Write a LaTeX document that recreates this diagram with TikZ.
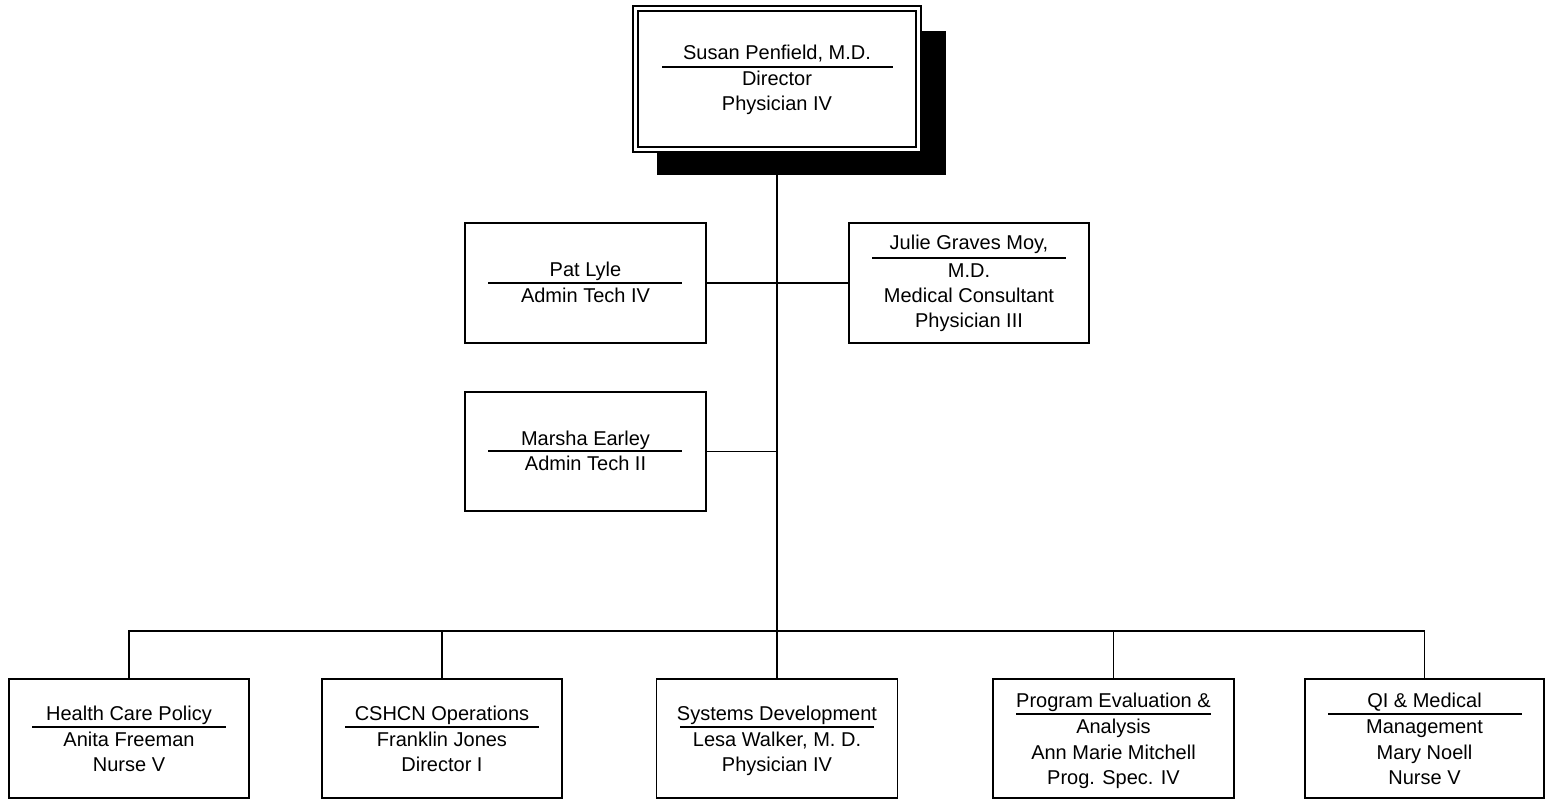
\documentclass[tikz,border=0pt]{standalone}
\usepackage{fontspec}
\setmainfont{Liberation Sans}
\begin{document}
\begin{tikzpicture}[x=1pt,y=-1pt,
  box/.style={draw,line width=1.3pt,fill=white,inner sep=0pt,outer sep=0pt,minimum width=#1},
  box/.default=240pt,
  lbl/.style={anchor=base,inner sep=0pt,font=\fontsize{20}{24}\selectfont},
  conn/.style={line width=1.3pt},
  rulel/.style={line width=1.3pt}]
\useasboundingbox (0,0) rectangle (1547,799);
% top box with shadow
\fill (657,31) rectangle (946,175);
\node[box=288pt,minimum height=146pt] (top) at (777,79) {};
\draw[line width=1.2pt] (638,11) rectangle (916,147);
\node[lbl] (t1) at (777,60) {Susan Penfield, M.D.};
\draw[rulel] (662,67) -- (893,67);
\node[lbl] (t2) at (777,86) {Director};
\node[lbl] (t3) at (777,111) {Physician IV};
% coordinates on spine
\coordinate (bus) at (777,631);
\coordinate (mspine) at (777,451.5);
% spine
\draw[conn] (top.south) -- (bus);
% staff boxes
\node[box=241pt,minimum height=120pt] (pat) at (585.5,283) {};
\node[lbl] (pa) at (585.5,277) {Pat Lyle};
\draw[rulel] (488,283) -- (682,283);
\node[lbl] (pb) at (585.5,303) {Admin Tech IV};

\node[box=240pt,minimum height=120pt] (jul) at (969,283) {};
\node[lbl] (ja) at (969,250) {Julie Graves Moy,};
\draw[rulel] (872,258) -- (1066,258);
\node[lbl] (jb) at (969,278) {M.D.};
\node[lbl] (jc) at (969,303) {Medical Consultant};
\node[lbl] (jd) at (969,328) {Physician III};

\node[box=241pt,minimum height=119pt] (mar) at (585.5,451.5) {};
\node[lbl] (ma) at (585.5,445) {Marsha Earley};
\draw[rulel] (488,451) -- (682,451);
\node[lbl] (mb) at (585.5,470) {Admin Tech II};

\draw[conn] (pat.east) -- (jul.west);
\draw[conn] (mar.east) -- (mspine);

% bottom boxes
\node[box=240pt,minimum height=119pt] (b1) at (129,738.5) {};
\node[box=240pt,minimum height=119pt] (b2) at (442,738.5) {};
\node[box=241pt,minimum height=119pt] (b3) at (777,738.5) {};
\node[box=241pt,minimum height=119pt] (b4) at (1113.5,738.5) {};
\node[box=239pt,minimum height=119pt] (b5) at (1424.5,738.5) {};

\draw[conn] (b1.north) -- (b1.north |- bus) -- (b5.north |- bus) -- (b5.north);
\draw[conn] (b2.north) -- (b2.north |- bus);
\draw[conn] (b3.north) -- (bus);
\draw[conn] (b4.north) -- (b4.north |- bus);

\node[lbl] (b1a) at (129,720) {Health Care Policy};
\draw[rulel] (32,727) -- (226,727);
\node[lbl] (b1b) at (129,746) {Anita Freeman};
\node[lbl] (b1c) at (129,771) {Nurse V};

\node[lbl] (b2a) at (442,720) {CSHCN Operations};
\draw[rulel] (345,727) -- (539,727);
\node[lbl] (b2b) at (442,746) {Franklin Jones};
\node[lbl] (b2c) at (442,771) {Director I};

\node[lbl] (b3a) at (777,720) {Systems Development};
\draw[rulel] (680,727) -- (874,727);
\node[lbl] (b3b) at (777,746) {Lesa Walker, M. D.};
\node[lbl] (b3c) at (777,771) {Physician IV};

\node[lbl] (b4a) at (1113.5,707) {Program Evaluation \&};
\draw[rulel] (1016,714) -- (1211,714);
\node[lbl] (b4b) at (1113.5,733) {Analysis};
\node[lbl] (b4c) at (1113.5,759) {Ann Marie Mitchell};
\node[lbl] (b4d) at (1113.5,784) {Prog. Spec. IV};

\node[lbl] (b5a) at (1424.5,707) {QI \& Medical};
\draw[rulel] (1328,714) -- (1522,714);
\node[lbl] (b5b) at (1424.5,733) {Management};
\node[lbl] (b5c) at (1424.5,759) {Mary Noell};
\node[lbl] (b5d) at (1424.5,784) {Nurse V};
\end{tikzpicture}
\end{document}
